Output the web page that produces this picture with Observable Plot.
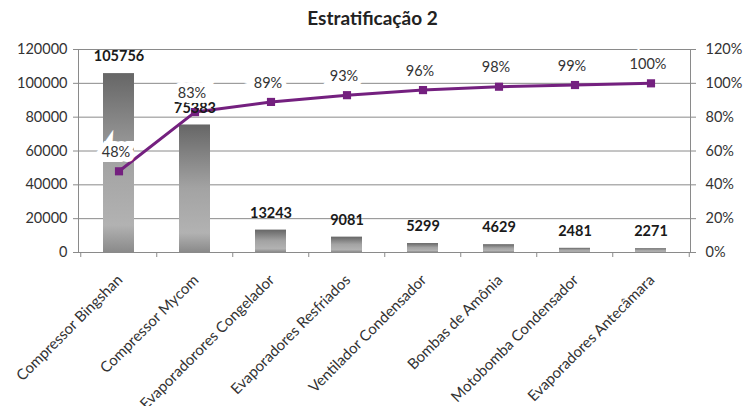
<!DOCTYPE html>
<html>
<head>
<meta charset="utf-8">
<script src="https://cdn.jsdelivr.net/npm/d3@7"></script>
<script src="https://cdn.jsdelivr.net/npm/@observablehq/plot@0.6"></script>
<style>
  body { margin: 0; background: #fff; font-family: Lato, "Open Sans", sans-serif; }
  #title { width: 745px; height: 36px; line-height: 36px; text-align: center; font-weight: bold; font-size: 19px; color: #222; }
</style>
</head>
<body>
<div id="title">Estratificação 2</div>
<div id="chart"></div>
<script>
const categories = ["Compressor Bingshan", "Compressor Mycom", "Evaporadorores Congelador", "Evaporadores Resfriados", "Ventilador Condensador", "Bombas de Amônia", "Motobomba Condensador", "Evaporadores Antecâmara"];
const values = [105756, 75383, 13243, 9081, 5299, 4629, 2481, 2271];
const cumulativePct = [48, 83, 89, 93, 96, 98, 99, 100];
const leftTicks = [0, 20000, 40000, 60000, 80000, 100000, 120000];
const rightTickLabels = ["0%", "20%", "40%", "60%", "80%", "100%", "120%"];

const data = categories.map((c, i) => ({cat: c, value: values[i], pct: cumulativePct[i], pctY: cumulativePct[i] * 1000}));

const W = 745, H = 370, ML = 78, MR = 55, MT = 13, MB = 154;
const step = (W - ML - MR) / categories.length;
const purple = "#74207f";
const font = "Lato, 'Open Sans', sans-serif";

const plot = Plot.plot({
  width: W, height: H,
  marginLeft: ML, marginRight: MR, marginTop: MT, marginBottom: MB,
  style: {fontFamily: font, fontSize: "14px", color: "#333", background: "#fff"},
  x: {type: "band", domain: categories, paddingInner: 0.595, paddingOuter: 0.2975, label: null},
  y: {domain: [0, 120000], label: null},
  marks: [
    Plot.gridY(leftTicks, {stroke: "#8a8a8a", strokeOpacity: 1}),
    Plot.barY(data, {x: "cat", y: "value", fill: "url(#barGrad)"}),
    Plot.ruleY([0], {stroke: "#8a8a8a"}),
    Plot.ruleX(data, {x: "cat", y1: 0, y2: 0, insetBottom: -5, dx: -step / 2, stroke: "#8a8a8a"}),
    Plot.ruleX(data.slice(-1), {x: "cat", y1: 0, y2: 0, insetBottom: -5, dx: step / 2, stroke: "#8a8a8a"}),
    Plot.frame({stroke: "#8a8a8a", anchor: "left"}),
    Plot.frame({stroke: "#8a8a8a", anchor: "right"}),
    Plot.axisY(leftTicks, {anchor: "left", tickSize: 5, tickPadding: 6, tickFormat: d3.format("d"), stroke: "#8a8a8a", fill: "#333", fontSize: 14.5, label: null}),
    Plot.axisY(leftTicks, {anchor: "right", tickSize: 5, tickPadding: 10, tickFormat: (d, i) => rightTickLabels[leftTicks.indexOf(d)], stroke: "#8a8a8a", fill: "#333", fontSize: 14.5, label: null}),
    Plot.axisX({tickSize: 0, tickPadding: 25, tickRotate: -45, dx: 1, fontSize: 15, fill: "#333", label: null}),
    Plot.line(data, {x: "cat", y: "pctY", stroke: purple, strokeWidth: 3}),
    Plot.dot(data, {x: "cat", y: "pctY", symbol: "square", r: 4.6, fill: purple, stroke: "none"}),
    Plot.text(data, {x: "cat", y: "value", text: d => String(d.value), dy: -17, fontWeight: "bold", fontSize: 14.5, fill: "#1a1a1a"}),
    Plot.text(data, {x: "cat", y: "pctY", text: d => d.pct + "%", dy: -19, dx: -3, fontSize: 14.5, fill: "#333", stroke: "white", strokeWidth: 10, strokeLinejoin: "miter"})
  ]
});

const svg = d3.select(plot);
const defs = svg.insert("defs", ":first-child");
const g = defs.append("linearGradient").attr("id", "barGrad").attr("x1", 0).attr("y1", 0).attr("x2", 0).attr("y2", 1);
g.append("stop").attr("offset", "0%").attr("stop-color", "#666666");
g.append("stop").attr("offset", "50%").attr("stop-color", "#a3a3a3");
g.append("stop").attr("offset", "85%").attr("stop-color", "#b2b2b2");
g.append("stop").attr("offset", "100%").attr("stop-color", "#8a8a8a");

document.getElementById("chart").appendChild(plot);
</script>
</body>
</html>
